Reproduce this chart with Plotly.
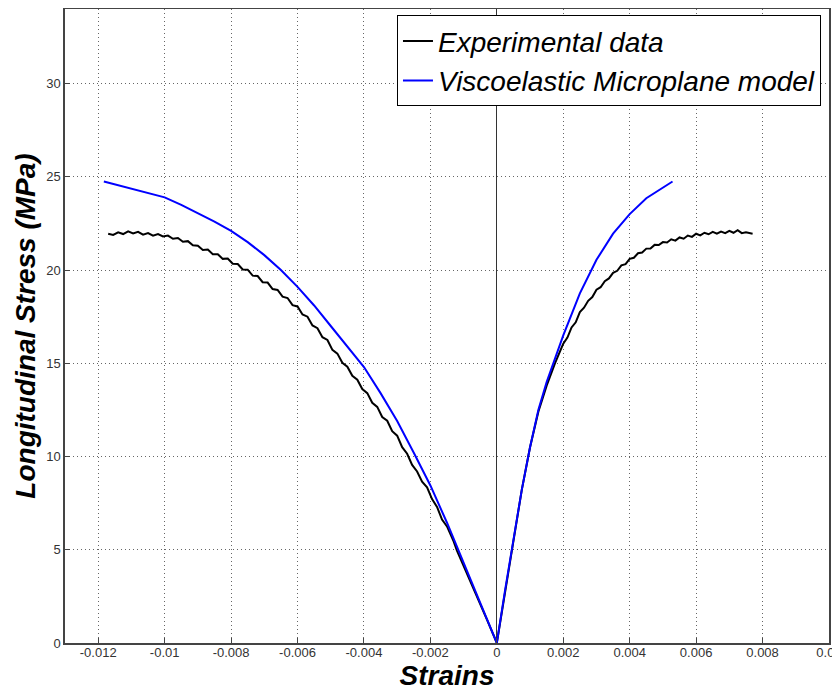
import plotly.graph_objects as go

exp_strain = [-0.0117, -0.01155, -0.0114, -0.01125, -0.0111, -0.01095, -0.0108, -0.01065, -0.0105, -0.01035,
              -0.0102, -0.01005, -0.0099, -0.00975, -0.0096, -0.00945, -0.0093, -0.00915, -0.0090, -0.00885,
              -0.0087, -0.00855, -0.0084, -0.00825, -0.0081, -0.00795, -0.0078, -0.00765, -0.0075, -0.00735,
              -0.0072, -0.00705, -0.0069, -0.00675, -0.0066, -0.00645, -0.0063, -0.00615, -0.0060, -0.00585,
              -0.0057, -0.00555, -0.0054, -0.00525, -0.0051, -0.00495, -0.0048, -0.00465, -0.0045, -0.00435,
              -0.0042, -0.00405, -0.0039, -0.00375, -0.0036, -0.00345, -0.0033, -0.00315, -0.0030, -0.00285,
              -0.0027, -0.00255, -0.0024, -0.00225, -0.0021, -0.00195, -0.0018, -0.00165, -0.0015, -0.0013,
              -0.0012, -0.0009, -0.0006, -0.0003, 0.0,
              0.00025, 0.0005, 0.00075, 0.001, 0.00125, 0.0015, 0.00175, 0.002, 0.002125, 0.00225,
              0.002375, 0.0025, 0.002625, 0.00275, 0.002875, 0.003, 0.003125, 0.00325, 0.003375, 0.0035,
              0.003625, 0.00375, 0.003875, 0.004, 0.004125, 0.00425, 0.004375, 0.0045, 0.004625, 0.00475,
              0.004875, 0.005, 0.005125, 0.00525, 0.005375, 0.0055, 0.005625, 0.00575, 0.005875, 0.006,
              0.006125, 0.00625, 0.006375, 0.0065, 0.006625, 0.00675, 0.006875, 0.007, 0.007125, 0.00725,
              0.007375, 0.0075, 0.0077]
exp_stress = [21.95, 21.88, 22.02, 21.93, 22.08, 21.96, 22.05, 21.90, 21.98, 21.84,
              21.93, 21.80, 21.85, 21.68, 21.72, 21.52, 21.55, 21.33, 21.30, 21.08,
              21.10, 20.85, 20.85, 20.60, 20.62, 20.34, 20.32, 20.03, 20.02, 19.70,
              19.68, 19.35, 19.33, 18.98, 18.93, 18.57, 18.50, 18.12, 18.05, 17.62,
              17.50, 17.03, 16.88, 16.40, 16.25, 15.72, 15.52, 15.03, 14.82, 14.33,
              14.12, 13.62, 13.40, 12.88, 12.66, 12.12, 11.92, 11.36, 11.12, 10.50,
              10.15, 9.55, 9.20, 8.65, 8.35, 7.72, 7.30, 6.62, 6.25, 5.45,
              4.95, 3.75, 2.52, 1.27, 0.0,
              2.7, 5.4, 8.2, 10.5, 12.4, 13.8, 15.0, 16.05, 16.38, 16.92,
              17.20, 17.75, 17.98, 18.35, 18.55, 18.95, 19.08, 19.40, 19.55, 19.85,
              19.96, 20.25, 20.32, 20.60, 20.66, 20.90, 20.94, 21.15, 21.16, 21.35,
              21.34, 21.50, 21.48, 21.65, 21.58, 21.75, 21.68, 21.85, 21.78, 21.95,
              21.86, 22.00, 21.92, 22.05, 21.95, 22.06, 21.98, 22.10, 22.00, 22.14,
              21.98, 22.02, 21.95]

# Viscoelastic Microplane model (blue)
model_strain = [-0.01183, -0.0115, -0.011, -0.0105, -0.010, -0.0095, -0.009, -0.0085, -0.008, -0.0075,
                -0.007, -0.0065, -0.006, -0.0055, -0.005, -0.0045, -0.004, -0.0035, -0.003, -0.0025,
                -0.002, -0.0015, -0.001, -0.0005, 0.0,
                0.00025, 0.0005, 0.00075, 0.001, 0.00125, 0.0015, 0.00175, 0.002, 0.0025, 0.003,
                0.0035, 0.004, 0.0045, 0.005, 0.00529]
model_stress = [24.75, 24.6, 24.35, 24.15, 23.9, 23.5, 23.05, 22.6, 22.1, 21.5,
                20.8, 20.0, 19.1, 18.1, 17.0, 15.9, 14.8, 13.4, 11.9, 10.2,
                8.45, 6.45, 4.3, 2.12, 0.0,
                2.85, 5.6, 8.2, 10.5, 12.5, 14.0, 15.3, 16.5, 18.75, 20.55,
                21.95, 23.0, 23.85, 24.45, 24.75]

x_tickvals = [-0.012, -0.01, -0.008, -0.006, -0.004, -0.002, 0, 0.002, 0.004, 0.006, 0.008, 0.01]
x_ticktext = ["-0.012", "-0.01", "-0.008", "-0.006", "-0.004", "-0.002", "0",
              "0.002", "0.004", "0.006", "0.008", "0.01"]
y_tickvals = [0, 5, 10, 15, 20, 25, 30]

fig = go.Figure()
fig.add_trace(go.Scatter(x=exp_strain, y=exp_stress, mode="lines", name="Experimental data",
                         line=dict(color="black", width=2)))
fig.add_trace(go.Scatter(x=model_strain, y=model_stress, mode="lines", name="Viscoelastic Microplane model",
                         line=dict(color="#0000ff", width=2)))

axis_common = dict(
    showline=True, mirror=True, linecolor="#444", linewidth=1.5,
    ticks="inside", ticklen=5, tickcolor="#444",
    showgrid=True, gridcolor="#666", griddash="1px,3px", gridwidth=1,
    tickfont=dict(family="Liberation Sans, Arial", size=13, color="#333"),
    automargin=False,
)

title_font = dict(family="Liberation Sans, Arial", size=28, color="black",
                  weight="bold", style="italic")

# the page body adds an 8px offset, so the figure is sized 832x684
fig.update_layout(
    width=832, height=684,
    margin=dict(l=57, r=11, t=1, b=49),
    paper_bgcolor="white", plot_bgcolor="white",
    showlegend=True,
    legend=dict(
        x=0.9895, y=0.99, xanchor="right", yanchor="top",
        bgcolor="white", bordercolor="black", borderwidth=1,
        font=dict(family="Liberation Sans, Arial", size=28, color="black", style="italic"),
        tracegroupgap=0,
    ),
    xaxis=dict(
        range=[-0.013, 0.0100001], tickvals=x_tickvals, ticktext=x_ticktext,
        ticklabeloverflow="allow", ticklabelstandoff=-3,
        zeroline=True, zerolinecolor="#333", zerolinewidth=1,
        title=dict(text="Strains", standoff=2, font=title_font),
        **axis_common,
    ),
    yaxis=dict(
        range=[0, 34], tickvals=y_tickvals, zeroline=False,
        title=dict(text="Longitudinal Stress (MPa)", standoff=2, font=title_font),
        **axis_common,
    ),
)

fig.write_html("out.html")
